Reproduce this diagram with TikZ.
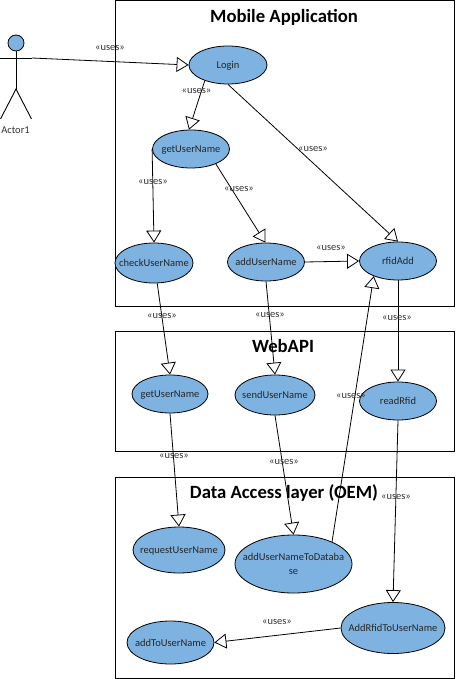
\documentclass[tikz,border=0pt]{standalone}
\usepackage{fontspec}
\setmainfont{Carlito}
\usetikzlibrary{shapes.geometric,arrows.meta}
\definecolor{uc}{RGB}{126,178,224}
\tikzset{
 frame/.style={draw=black,line width=1pt,fill=white},
 title/.style={font=\fontsize{18.7}{20}\selectfont\bfseries,inner sep=0pt,text=black},
 uc/.style={ellipse,draw=black,line width=0.8pt,fill=uc,inner sep=0pt,font=\fontsize{10.5}{14}\selectfont,text=black!85},
 lab/.style={font=\fontsize{10.5}{12}\selectfont,inner sep=0pt,text=black!80},
 uses/.style={draw=black,line width=0.8pt,-{Triangle[open,fill=white,length=12pt,width=15pt,line width=0.8pt]}},
 stick/.style={draw=black,line width=0.9pt}
}
\newcommand{\uc}[6]{\node[uc,minimum width=#3pt,minimum height=#4pt] (#5) at (#1,#2) {\smash{\makebox[0pt]{\raisebox{-0.7ex}{#6}}}};}
\begin{document}
\begin{tikzpicture}[x=1pt,y=-1pt]
\useasboundingbox (0,0) rectangle (455,679);
\fill[white] (0,0) rectangle (455,679);
\draw[frame] (115,0.5) rectangle (454.5,306);
\draw[frame] (115,331) rectangle (454.5,451);
\draw[frame] (115,477) rectangle (454.5,678);
\node[title] (t1) at (284,17.5) {Mobile Application};
\node[title] (t2) at (283,346.5) {WebAPI};
\node[title] (t3) at (284,493) {Data Access layer (OEM)};
% actor
\node[circle,draw=black,fill=uc,line width=0.8pt,minimum size=16pt,inner sep=0pt] (head) at (16,43) {};
\coordinate (hip) at (16,89);
\coordinate (lefthand) at (0,58);
\coordinate (righthand) at (32,58);
\coordinate (leftfoot) at (0.5,119);
\coordinate (rightfoot) at (31.5,119);
\draw[stick] (head.south) -- (hip);
\draw[stick] (lefthand) -- (righthand);
\draw[stick] (leftfoot) -- (hip) -- (rightfoot);
\node[lab] (actorlabel) at (15.5,130) {Actor1};
% use cases
\uc{228}{65}{78}{38}{login}{Login}
\uc{191}{149}{77}{38}{gun}{getUserName}
\uc{154}{263}{78}{40}{cun}{checkUserName}
\uc{266}{262}{77}{38}{aun}{addUserName}
\uc{398}{261}{77}{38}{rfid}{rfidAdd}
\uc{170}{394}{76}{38}{gunb}{getUserName}
\uc{275}{395}{80}{40}{sun}{sendUserName}
\uc{398}{401}{77}{38}{rr}{readRfid}
\uc{179}{550}{92}{46}{req}{requestUserName}
\uc{293.5}{564}{117}{58}{db}{\begin{tabular}{@{}c@{}}addUserNameToDataba\\se\end{tabular}}
\uc{393}{628}{104}{51}{arf}{AddRfidToUserName}
\uc{170.5}{642.5}{87}{43}{atu}{addToUserName}
% connectors
\draw[uses] (righthand) -- (login.west);
\draw[uses] (login.214) -- (gun.96);
\draw[uses] (gun.west) -- (cun.north);
\draw[uses] (gun.-31) -- (aun.92);
\draw[uses] (aun.east) -- (rfid.west);
\draw[uses] (login.south) -- (rfid.north);
\draw[uses] (cun.-81) -- (gunb.north);
\draw[uses] (aun.south) -- (sun.north);
\draw[uses] (rfid.south) -- (rr.north);
\draw[uses] (rr.south) -- (arf.north);
\draw[uses] (gunb.south) -- (req.north);
\draw[uses] (sun.south) -- (db.north);
\draw[uses] (db.30) -- (rfid.212);
\draw[uses] (arf.west) -- (atu.east);
% labels
\foreach \x/\y/\n in {110/47.5/a,196.5/90.5/b,153/182/c,239/188.5/d,313/149/e,331/248/f,162/315.5/g,270/314.5/h,397/317.5/i,351/395.5/j,174/455.5/k,284/461.5/l,396/497/m,277/621.5/n}
  \node[lab] (uses\n) at (\x,\y) {«uses»};
\end{tikzpicture}
\end{document}
